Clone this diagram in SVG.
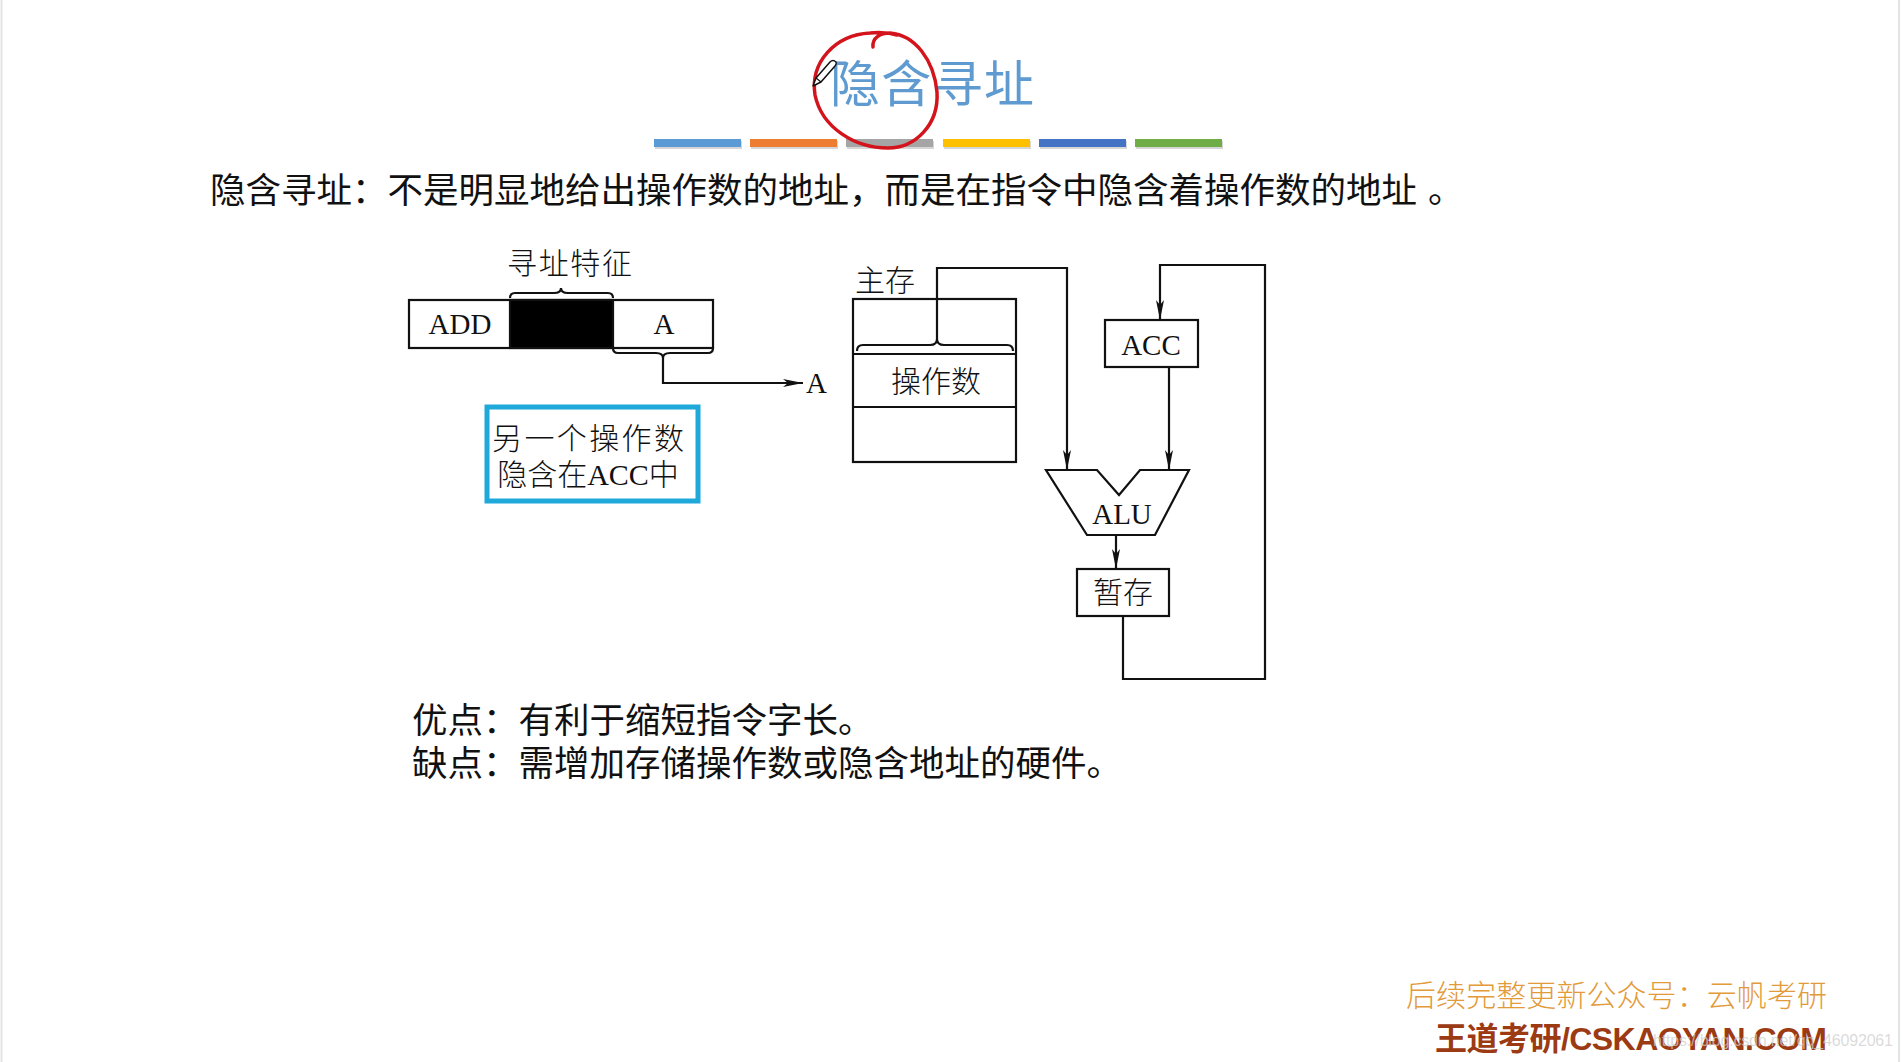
<svg xmlns="http://www.w3.org/2000/svg" width="1902" height="1062" viewBox="0 0 1902 1062">
<style>
.cjk{font-family:"Noto Sans CJK SC","Noto Sans",sans-serif;}
.body{font-family:"Noto Sans CJK SC",sans-serif;font-size:35.5px;fill:#111;}
.lbl{font-family:"Noto Sans CJK SC",sans-serif;font-size:30px;font-weight:300;fill:#111;}
.ser{font-family:"Liberation Serif","Noto Sans CJK SC",serif;font-size:29px;fill:#111;}
.box{fill:#fff;stroke:#111;stroke-width:2.2;}
.ln{fill:none;stroke:#111;stroke-width:2.2;}
.arr{fill:none;stroke:#111;stroke-width:2.2;marker-end:url(#ah);}
</style>
<defs>
<marker id="ah" markerUnits="userSpaceOnUse" markerWidth="22" markerHeight="10" refX="20" refY="4" orient="auto">
<path d="M0,0 L20,4 L0,8 L5,4 Z" fill="#111"/>
</marker>
</defs>
<rect x="0" y="0" width="1902" height="1062" fill="#fff"/>
<line x1="1.5" y1="0" x2="1.5" y2="1062" stroke="#e4e4e4" stroke-width="2"/>
<line x1="1899" y1="0" x2="1899" y2="1062" stroke="#e4e4e4" stroke-width="2"/>

<g id="title">
<text x="830" y="102" class="cjk" font-size="50" fill="#5f9bd0" textLength="204">隐含寻址</text>
<g id="color-bars">
<rect x="655" y="141" width="87" height="8" fill="#d6d6d6"/>
<rect x="751" y="141" width="87" height="8" fill="#d6d6d6"/>
<rect x="847" y="141" width="87" height="8" fill="#d6d6d6"/>
<rect x="944" y="141" width="87" height="8" fill="#d6d6d6"/>
<rect x="1040" y="141" width="87" height="8" fill="#d6d6d6"/>
<rect x="1136" y="141" width="87" height="8" fill="#d6d6d6"/>
<rect x="654" y="139" width="87" height="8" fill="#5b9bd5"/>
<rect x="750" y="139" width="87" height="8" fill="#ed7d31"/>
<rect x="846" y="139" width="87" height="8" fill="#a5a5a5"/>
<rect x="943" y="139" width="87" height="8" fill="#ffc000"/>
<rect x="1039" y="139" width="87" height="8" fill="#4472c4"/>
<rect x="1135" y="139" width="87" height="8" fill="#70ad47"/>
</g>
<path d="M873,47 C872,38 880,33 890,33 C915,35 934,60 937,92 C939,125 915,148 888,148 C855,148 822,128 815,95 C810,62 835,35 870,33 C880,32 890,33 897,35" fill="none" stroke="#d3141c" stroke-width="3.5" stroke-linecap="round"/>
<g id="pencil">
<path d="M813,86 L816,78 L830,62 Q833,59 836,62 Q837,64 835,66 L821,82 Z" fill="#fff" stroke="#111" stroke-width="1.5" stroke-linejoin="round"/>
<line x1="816" y1="78" x2="821" y2="82" stroke="#111" stroke-width="1.2"/>
</g>
</g>

<g id="definition">
<text x="210" y="203" class="body" textLength="1207" lengthAdjust="spacing">隐含寻址：不是明显地给出操作数的地址，而是在指令中隐含着操作数的地址</text>
<text x="1428" y="203" class="body">。</text>
</g>

<g id="instruction">
<rect x="409" y="300" width="304" height="48" class="box"/>
<rect x="510" y="300" width="103" height="48" fill="#000" stroke="#111" stroke-width="2.2"/>
<text x="460" y="334" class="ser" text-anchor="middle">ADD</text>
<text x="664" y="334" class="ser" text-anchor="middle">A</text>
<text x="507" y="274" class="lbl" textLength="125">寻址特征</text>
</g>

<g id="addr-A">
<text x="806" y="393" class="ser">A</text>
</g>

<g id="note">
<rect x="487" y="407" width="211" height="94" fill="#fff" stroke="#1fa8da" stroke-width="5"/>
<text x="588" y="449" class="lbl" font-size="31" text-anchor="middle" textLength="192">另一个操作数</text>
<text x="588" y="485" class="lbl" font-size="31" text-anchor="middle">隐含在<tspan font-family="Liberation Serif, serif" font-size="30">ACC</tspan>中</text>
</g>

<g id="memory">
<text x="855" y="291" class="lbl" textLength="60">主存</text>
<rect x="853" y="299" width="163" height="163" class="box"/>
<line x1="853" y1="354" x2="1016" y2="354" class="ln"/>
<line x1="853" y1="407" x2="1016" y2="407" class="ln"/>
<text x="936" y="392" class="lbl" text-anchor="middle">操作数</text>
</g>

<g id="acc">
<rect x="1105" y="320" width="93" height="47" class="box"/>
<text x="1151" y="355" class="ser" font-size="30" text-anchor="middle">ACC</text>
</g>

<g id="alu">
<polygon points="1046,470 1097,470 1119,495 1140,470 1189,470 1155,535 1087,535" class="box"/>
<text x="1122" y="524" class="ser" text-anchor="middle">ALU</text>
</g>

<g id="temp">
<rect x="1077" y="569" width="92" height="47" class="box"/>
<text x="1123" y="603" class="lbl" text-anchor="middle">暂存</text>
</g>

<g id="connectors">
<path d="M510,298 Q510,293 515,293 L554,293 Q561,293 561,288 Q561,293 568,293 L608,293 Q613,293 613,298" class="ln"/>
<path d="M613,348 Q613,353 618,353 L656,353 Q663,353 663,358 Q663,353 670,353 L708,353 Q713,353 713,348" class="ln"/>
<path d="M663,358 L663,383 L803,383" class="arr"/>
<path d="M857,351 Q857,345 863,345 L930,345 Q937,345 937,339 Q937,345 944,345 L1007,345 Q1013,345 1013,351" class="ln"/>
<path d="M937,339 L937,268 L1067,268 L1067,470" class="arr"/>
<path d="M1169,367 L1169,470" class="arr"/>
<path d="M1116,535 L1116,569" class="arr"/>
<path d="M1123,616 L1123,679 L1265,679 L1265,265 L1160,265 L1160,320" class="arr"/>
</g>

<g id="pros-cons">
<text x="412" y="733" class="body">优点：有利于缩短指令字长。</text>
<text x="412" y="776" class="body">缺点：需增加存储操作数或隐含地址的硬件。</text>
</g>

<g id="footer">
<text x="1406" y="1006" class="cjk" font-size="30" font-weight="300" fill="#e39a3a" textLength="421">后续完整更新公众号：云帆考研</text>
<text x="1435" y="1050" font-family="Liberation Sans, Noto Sans CJK SC, sans-serif" font-size="32" font-weight="bold" fill="#9c3a14" textLength="392">王道考研/CSKAOYAN.COM</text>
<text x="1653" y="1046" font-family="Liberation Sans, sans-serif" font-size="16" fill="#cfcfcf" fill-opacity="0.75" textLength="240">https://blog.csdn.net/qq_46092061</text>
</g>
</svg>
